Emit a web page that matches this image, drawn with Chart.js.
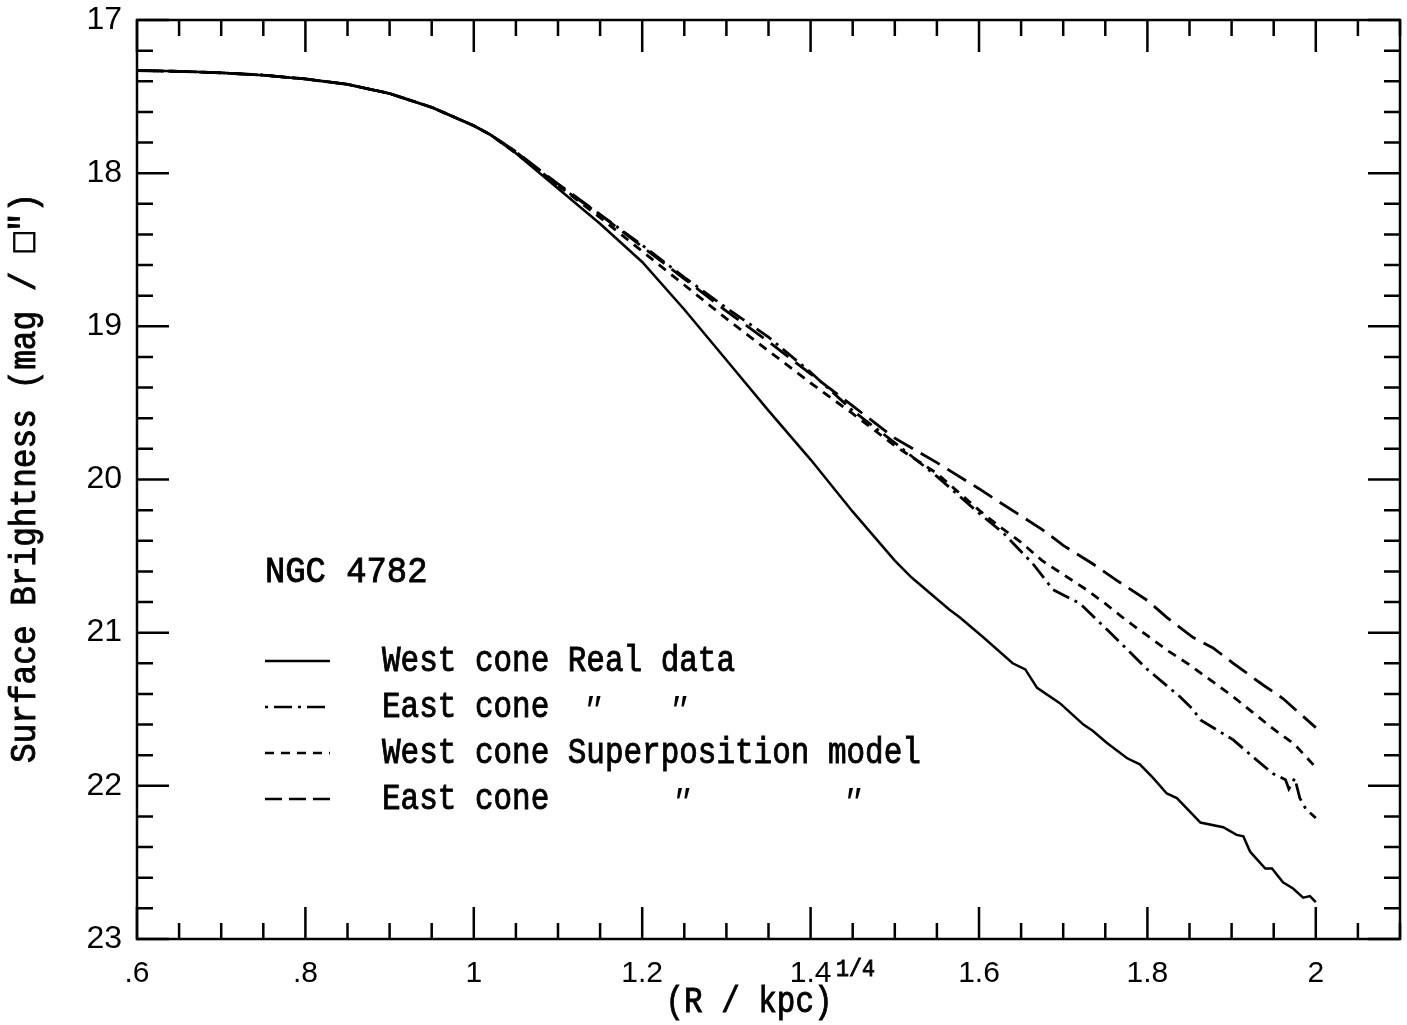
<!DOCTYPE html>
<html><head><meta charset="utf-8">
<script src="https://cdn.jsdelivr.net/npm/chart.js@4.4.1/dist/chart.umd.min.js"></script>
<style>html,body{margin:0;padding:0;background:#fff}#wrap{width:1407px;height:1025px}</style>
</head><body><div id="wrap"><canvas id="c" width="1407" height="1025"></canvas></div>
<script>
// ---- data ----
const xWestReal = [0.60,0.65,0.70,0.75,0.80,0.85,0.90,0.95,1.00,1.02,1.05,1.10,1.15,1.20,1.25,1.30,1.35,1.40,1.45,1.50,1.52,1.565,1.577,1.605,1.64,1.655,1.669,1.696,1.712,1.724,1.735,1.752,1.776,1.791,1.807,1.823,1.835,1.863,1.89,1.906,1.914,1.922,1.94,1.948,1.961,1.973,1.985,1.993,2.00];
const yWestReal = [17.33,17.335,17.345,17.36,17.385,17.42,17.48,17.57,17.69,17.75,17.87,18.10,18.33,18.58,18.89,19.22,19.55,19.87,20.21,20.53,20.64,20.85,20.90,21.03,21.20,21.24,21.36,21.46,21.54,21.60,21.64,21.72,21.82,21.86,21.95,22.05,22.08,22.24,22.27,22.32,22.33,22.43,22.54,22.54,22.63,22.67,22.73,22.72,22.76];

const xEastReal = [0.60,0.65,0.70,0.75,0.80,0.85,0.90,0.95,1.00,1.02,1.05,1.10,1.15,1.20,1.25,1.30,1.35,1.40,1.45,1.50,1.55,1.60,1.629,1.664,1.688,1.720,1.752,1.776,1.800,1.839,1.854,1.863,1.902,1.925,1.949,1.964,1.968,1.975,1.981,1.988,2.00];
const yEastReal = [17.33,17.335,17.345,17.36,17.385,17.42,17.48,17.57,17.69,17.75,17.86,18.08,18.27,18.47,18.68,18.88,19.07,19.30,19.55,19.76,19.98,20.22,20.35,20.55,20.72,20.81,20.98,21.11,21.24,21.42,21.50,21.57,21.70,21.81,21.92,21.96,22.02,21.95,22.08,22.15,22.21];

const xWestModel = [0.60,0.65,0.70,0.75,0.80,0.85,0.90,0.95,1.00,1.02,1.05,1.10,1.15,1.20,1.25,1.30,1.35,1.40,1.45,1.50,1.55,1.60,1.625,1.65,1.675,1.70,1.725,1.75,1.775,1.80,1.825,1.85,1.875,1.90,1.925,1.95,1.975,2.00];
const yWestModel = [17.33,17.335,17.345,17.36,17.385,17.42,17.48,17.57,17.69,17.75,17.87,18.08,18.29,18.51,18.73,18.95,19.16,19.37,19.57,19.78,19.96,20.20,20.31,20.41,20.53,20.62,20.71,20.81,20.92,21.02,21.12,21.21,21.31,21.41,21.52,21.63,21.73,21.88];

const xEastModel = [0.60,0.65,0.70,0.75,0.80,0.85,0.90,0.95,1.00,1.02,1.05,1.10,1.15,1.20,1.25,1.30,1.35,1.40,1.45,1.50,1.55,1.60,1.625,1.676,1.700,1.735,1.764,1.800,1.823,1.854,1.878,1.902,1.937,1.961,2.00];
const yEastModel = [17.33,17.335,17.345,17.36,17.385,17.42,17.48,17.57,17.69,17.75,17.86,18.07,18.27,18.48,18.69,18.90,19.10,19.31,19.52,19.73,19.89,20.06,20.15,20.33,20.43,20.55,20.66,20.79,20.90,21.03,21.10,21.20,21.34,21.43,21.62];

const xTickLabels = [0.6,0.8,1.0,1.2,1.4,1.6,1.8,2.0];
const yTickLabels = [17,18,19,20,21,22,23];
const seriesNames = ["West cone Real data","East cone","West cone Superposition model","East cone"];
const objectName = "NGC 4782";

// ---- helpers ----
const pts = (xs, ys) => xs.map((v,i)=>({x:v,y:ys[i]}));
const fmtX = v => { let s = (+v.toFixed(2)).toString(); return s.startsWith('0.') ? s.slice(1) : s; };

const MONO = '"Liberation Mono", "DejaVu Sans Mono", monospace';
function txt(ctx, s, x, y, size, align, sx){
  ctx.save();
  ctx.translate(x,y);
  ctx.scale(sx||0.86,1);
  ctx.font = size+'px '+MONO;
  ctx.textAlign = align||'left';
  ctx.textBaseline = 'middle';
  ctx.fillStyle = '#000';
  ctx.strokeStyle = '#000';
  ctx.lineWidth = 0.9;
  ctx.setLineDash([]);
  ctx.fillText(s,0,0);
  ctx.strokeText(s,0,0);
  ctx.restore();
}

const decor = {
  id:'decor',
  afterDatasetsDraw(chart){
    const {ctx, chartArea:a, scales:{x,y}} = chart;
    ctx.save();
    ctx.strokeStyle='#000'; ctx.lineWidth=2.5; ctx.lineCap='butt';
    ctx.strokeRect(a.left,a.top,a.right-a.left,a.bottom-a.top);
    ctx.beginPath();
    for(let i=0;i<=30;i++){
      const v = 0.6 + i*0.05;
      const px = x.getPixelForValue(v);
      const L = (i%4===0)?32:16;
      ctx.moveTo(px,a.bottom); ctx.lineTo(px,a.bottom-L);
      ctx.moveTo(px,a.top); ctx.lineTo(px,a.top+L);
    }
    for(let i=0;i<=30;i++){
      const v = 17 + i*0.2;
      const py = y.getPixelForValue(v);
      const L = (i%5===0)?32:16;
      ctx.moveTo(a.left,py); ctx.lineTo(a.left+L,py);
      ctx.moveTo(a.right,py); ctx.lineTo(a.right-L,py);
    }
    ctx.stroke();

    // annotations / legend
    txt(ctx, objectName, 265, 572, 36, 'left', 0.94);
    const rows = [661,707,753,799];
    const dashes = [[],[3,6,18,6],[9,7],[17,7]];
    rows.forEach((ry,i)=>{
      ctx.save();
      ctx.lineWidth = 2.5;
      ctx.setLineDash(dashes[i]);
      ctx.beginPath(); ctx.moveTo(265,ry); ctx.lineTo(330,ry); ctx.stroke();
      ctx.restore();
      txt(ctx, seriesNames[i], 382, ry, 36, 'left');
    });
    // ditto marks
    const ditto = (dx,dy)=>{
      ctx.save(); ctx.font='italic 34px '+MONO; ctx.textAlign='center'; ctx.textBaseline='middle'; ctx.fillStyle='#000';
      ctx.fillText('"',dx,dy+4); ctx.restore();
    };
    ditto(592,707); ditto(678,707); ditto(681,799); ditto(852,799);

    // axis titles
    ctx.save();
    ctx.translate(25, 478);
    ctx.rotate(-Math.PI/2);
    txt(ctx, 'Surface Brightness (mag / \u25A1\u2033)', 0, 0, 36, 'center', 0.91);
    ctx.restore();
    txt(ctx, '(R / kpc)', 749, 1002, 36, 'center');
    txt(ctx, '1/4', 836, 970, 24, 'left', 0.9);
    ctx.restore();
  }
};

const ds = (label, data, dash, w) => ({label, data, borderColor:'#000', backgroundColor:'#000', borderWidth:w, borderDash:dash, pointRadius:0, tension:0, fill:false});

new Chart(document.getElementById('c'), {
  type:'line',
  data:{datasets:[
    ds('West cone Real data', pts(xWestReal,yWestReal), [], 2.5),
    ds('East cone Real data', pts(xEastReal,yEastReal), [18,6,3,6], 2.8),
    ds('West cone Superposition model', pts(xWestModel,yWestModel), [9,7], 2.8),
    ds('East cone Superposition model', pts(xEastModel,yEastModel), [22,9], 2.8)
  ]},
  options:{
    responsive:false, animation:false, devicePixelRatio:1,
    layout:{padding:{top:20,right:7,left:0,bottom:0}},
    plugins:{legend:{display:false}, tooltip:{enabled:false}},
    scales:{
      x:{type:'linear', min:0.6, max:2.1,
        afterFit(s){ s.height = 86; s.paddingLeft = 0; s.paddingRight = 0; },
        afterBuildTicks(s){ s.ticks = xTickLabels.map(v=>({value:v})); },
        grid:{display:false, drawTicks:false}, border:{display:false},
        ticks:{padding:17, color:'#000', font:{family:'"Liberation Sans", Arial, sans-serif', size:30}, callback:(v)=>fmtX(v), maxRotation:0, autoSkip:false}
      },
      y:{type:'linear', min:17, max:23, reverse:true,
        afterFit(s){ s.width = 137; s.paddingTop = 0; s.paddingBottom = 0; },
        afterBuildTicks(s){ s.ticks = yTickLabels.map(v=>({value:v})); },
        grid:{display:false, drawTicks:false}, border:{display:false},
        ticks:{padding:15, color:'#000', font:{family:'"Liberation Sans", Arial, sans-serif', size:32}, callback:(v)=>String(v), autoSkip:false}
      }
    }
  },
  plugins:[decor]
});
</script></body></html>
